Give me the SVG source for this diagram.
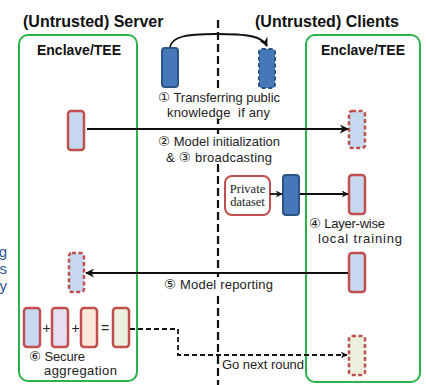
<svg xmlns="http://www.w3.org/2000/svg" width="426" height="385" viewBox="0 0 426 385">
  <defs>
    <marker id="arr" viewBox="0 0 10 10" refX="9" refY="5" markerWidth="7" markerHeight="7" markerUnits="userSpaceOnUse" orient="auto">
      <path d="M0,0 L10,5 L0,10 L3,5 Z" fill="#111"/>
    </marker>
    <marker id="arrBig" viewBox="0 0 10 10" refX="9" refY="5" markerWidth="9" markerHeight="9" markerUnits="userSpaceOnUse" orient="auto">
      <path d="M0,0 L10,5 L0,10 L3,5 Z" fill="#111"/>
    </marker>
  </defs>
  <style>
    .title { font-family: "Liberation Sans", Arial, sans-serif; font-weight: bold; font-size: 16px; fill: #111; }
    .encl { font-family: "Liberation Sans", Arial, sans-serif; font-weight: bold; font-size: 14px; fill: #111; }
    .lbl { font-family: "Liberation Sans", "DejaVu Sans", sans-serif; font-size: 13px; fill: #222; }
    .num { font-family: "DejaVu Sans", sans-serif; font-size: 13.5px; }
    .serif { font-family: "Liberation Serif", "Times New Roman", serif; font-size: 12.5px; fill: #222; }
    .tee { fill: none; stroke: #2bb34a; stroke-width: 2; }
    .layer { stroke: #c0504d; stroke-width: 2.5; }
    .dash { stroke-dasharray: 4 2.5; }
    .pub { fill: #4677b8; stroke: #2c5587; stroke-width: 2; }
    .blue { fill: #c6d9f0; }
    .line { stroke: #111; stroke-width: 1.8; fill: none; }
    .ws { fill: #fff; }
    .side { font-family: "Liberation Sans", Arial, sans-serif; font-size: 15px; fill: #2f5597; }
  </style>

  <!-- clipped labels from the neighbouring panel -->
  <text class="side" x="7" y="257" text-anchor="end">g</text>
  <text class="side" x="7" y="274" text-anchor="end">s</text>
  <text class="side" x="7" y="291" text-anchor="end">y</text>

  <!-- headers -->
  <text class="title" x="23" y="27">(Untrusted) Server</text>
  <text class="title" x="255" y="27">(Untrusted) Clients</text>

  <!-- server / client divider -->
  <line x1="218" y1="20" x2="218" y2="385" stroke="#111" stroke-width="2.2" stroke-dasharray="8 4"/>

  <!-- trusted enclaves -->
  <g id="server-enclave">
    <rect class="tee" x="19" y="35" width="118" height="346" rx="9"/>
    <text class="encl" x="79" y="55" text-anchor="middle">Enclave/TEE</text>
  </g>
  <g id="client-enclave">
    <rect class="tee" x="306" y="35" width="114" height="347" rx="9"/>
    <text class="encl" x="363" y="55" text-anchor="middle">Enclave/TEE</text>
  </g>

  <!-- public knowledge -->
  <g id="public-server">
    <rect class="pub" x="162" y="48" width="16" height="39" rx="3"/>
  </g>
  <g id="public-client">
    <rect class="pub dash" x="259" y="49" width="16" height="39" rx="3"/>
  </g>

  <!-- step labels (white backing hides the divider) -->
  <g id="label-1">
    <rect class="ws" x="156" y="89" width="126" height="30"/>
    <text class="lbl" x="158" y="102" textLength="122" lengthAdjust="spacing"><tspan class="num">①</tspan> Transferring public</text>
    <text class="lbl" x="167" y="117" textLength="103" lengthAdjust="spacing" xml:space="preserve">knowledge  if any</text>
  </g>
  <g id="label-23">
    <rect class="ws" x="156" y="134" width="126" height="30"/>
    <text class="lbl" x="158" y="146" textLength="122" lengthAdjust="spacing"><tspan class="num">②</tspan> Model initialization</text>
    <text class="lbl" x="166" y="162" textLength="106" lengthAdjust="spacing">&amp; <tspan class="num">③</tspan> broadcasting</text>
  </g>
  <g id="label-5">
    <rect class="ws" x="162" y="277" width="114" height="15"/>
    <text class="lbl" x="164" y="289" textLength="109" lengthAdjust="spacing"><tspan class="num">⑤</tspan> Model reporting</text>
  </g>

  <!-- server model layers -->
  <g id="server-init">
    <rect class="layer blue" x="68" y="111" width="16" height="39" rx="3"/>
  </g>
  <g id="server-received">
    <rect class="layer blue dash" x="69" y="253" width="15" height="39" rx="3"/>
  </g>

  <!-- client model layers -->
  <g id="client-received">
    <rect class="layer blue dash" x="349" y="111" width="16" height="37" rx="3"/>
  </g>
  <g id="private-dataset">
    <rect x="225" y="176" width="45" height="39" rx="7" fill="#fff" stroke="#c0504d" stroke-width="2"/>
    <text class="serif" x="247.5" y="193" text-anchor="middle">Private</text>
    <text class="serif" x="247.5" y="206" text-anchor="middle">dataset</text>
  </g>
  <g id="client-public">
    <rect class="pub" x="283" y="175" width="16" height="40" rx="3"/>
  </g>
  <g id="client-trained">
    <rect class="layer blue" x="349" y="175" width="16" height="39" rx="3"/>
    <text class="lbl" x="309" y="228" textLength="76" lengthAdjust="spacing"><tspan class="num">④</tspan> Layer-wise</text>
    <text class="lbl" x="318" y="243" textLength="84" lengthAdjust="spacing">local training</text>
  </g>
  <g id="client-report">
    <rect class="layer blue" x="349" y="253" width="16" height="39" rx="3"/>
  </g>
  <g id="client-next">
    <rect class="layer dash" x="349" y="336" width="16" height="39" rx="3" fill="#ebf1de"/>
  </g>

  <!-- secure aggregation -->
  <g id="aggregation">
    <rect class="layer blue" x="24" y="308" width="16" height="39" rx="3"/>
    <text class="lbl" x="46.5" y="333" text-anchor="middle" style="font-size:14px">+</text>
    <rect class="layer" x="52" y="308" width="16" height="39" rx="3" fill="#e5dff0"/>
    <text class="lbl" x="75.5" y="333" text-anchor="middle" style="font-size:14px">+</text>
    <rect class="layer" x="81" y="308" width="16" height="39" rx="3" fill="#fde9d9"/>
    <text class="lbl" x="105" y="333" text-anchor="middle" style="font-size:14px">=</text>
    <rect class="layer" x="113" y="308" width="16" height="39" rx="3" fill="#ebf1de"/>
    <text class="lbl" x="29" y="361" textLength="56" lengthAdjust="spacing"><tspan class="num">⑥</tspan> Secure</text>
    <text class="lbl" x="44" y="375" textLength="73" lengthAdjust="spacing">aggregation</text>
  </g>

  <!-- connectors -->
  <g id="connectors">
    <path class="line" d="M170,47 C172,37 185,34 215,34 C248,34 262,36 267,46" marker-end="url(#arrBig)"/>
    <line class="line" x1="87" y1="129" x2="348" y2="129" marker-end="url(#arrBig)"/>
    <line class="line" x1="270" y1="194" x2="282" y2="194" stroke-width="1.5" marker-end="url(#arr)"/>
    <line class="line" x1="300" y1="194" x2="348" y2="194" stroke-width="1.5" marker-end="url(#arr)"/>
    <line class="line" x1="348" y1="273" x2="86" y2="273" marker-end="url(#arrBig)"/>
    <path class="line" d="M130,329 H178 V355 H347" stroke-width="1.5" stroke-dasharray="5 3" marker-end="url(#arr)"/>
    <text class="lbl" x="222" y="369" textLength="82" lengthAdjust="spacing">Go next round</text>
  </g>
</svg>
